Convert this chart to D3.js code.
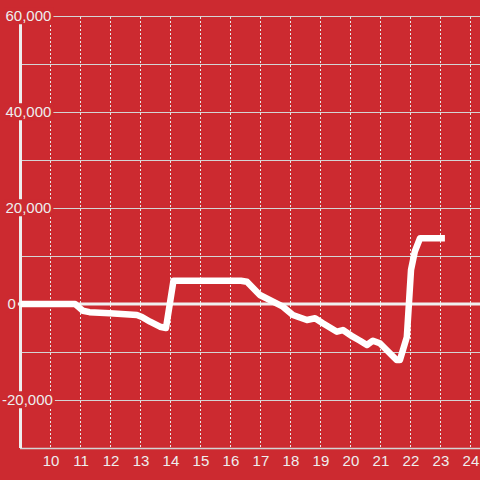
<!DOCTYPE html>
<html><head><meta charset="utf-8">
<script src="https://cdn.jsdelivr.net/npm/d3@7"></script>
<style>html,body{margin:0;padding:0;background:#cc2a30;}svg{display:block;}</style>
</head><body>
<svg id="c" width="480" height="480"></svg>
<script>
const xValues = [9, 10.82, 10.95, 11.08, 11.3, 11.98, 12.88, 13.05, 13.32, 13.65, 13.85, 14.1, 16.35, 16.55, 16.98, 17.42, 17.75, 18.08, 18.55, 18.82, 19.08, 19.55, 19.75, 20.08, 20.32, 20.55, 20.75, 20.98, 21.54, 21.65, 21.88, 22.02, 22.15, 22.32, 23.15];
const yValues = [0, 0, -700, -1400, -1700, -1940, -2300, -2700, -3690, -4730, -5000, 4850, 4850, 4650, 1875, 480, -560, -2290, -3330, -2980, -4020, -5770, -5420, -6810, -7650, -8540, -7650, -8190, -11670, -11670, -6900, 7100, 11000, 13700, 13700];
const xTicks = [10, 11, 12, 13, 14, 15, 16, 17, 18, 19, 20, 21, 22, 23, 24];
const yGrid = [-30000, -20000, -10000, 0, 10000, 20000, 30000, 40000, 50000, 60000];
const yLabels = [-20000, 0, 20000, 40000, 60000];

const bg = "#cc2a30";
const svg = d3.select("#c");
const x = d3.scaleLinear().domain([9, 24.32]).range([20.5, 480]);
const y = d3.scaleLinear().domain([-30000, 60000]).range([448, 16]);

// horizontal grid
svg.append("g").selectAll("line").data(yGrid.filter(v => v !== 0)).join("line")
  .attr("x1", 20).attr("x2", 480)
  .attr("y1", d => Math.round(y(d)) + 0.5).attr("y2", d => Math.round(y(d)) + 0.5)
  .attr("stroke", "#d4d4d4").attr("stroke-width", d => d === -30000 ? 1.5 : 1);

// vertical dotted grid
svg.append("g").selectAll("line").data(xTicks).join("line")
  .attr("x1", d => Math.round(x(d)) + 0.5).attr("x2", d => Math.round(x(d)) + 0.5)
  .attr("y1", 17).attr("y2", 448)
  .attr("stroke", "#e8e8e8").attr("stroke-width", 1).attr("stroke-dasharray", "2,2");

// left axis bar
svg.append("line").attr("x1", 20.5).attr("x2", 20.5).attr("y1", 16).attr("y2", 448)
  .attr("stroke", "#eeeeee").attr("stroke-width", 3);

// zero line
svg.append("line").attr("x1", 17).attr("x2", 480).attr("y1", y(0)).attr("y2", y(0))
  .attr("stroke", "#f0f0f0").attr("stroke-width", 3);

// y labels with background
const fmt = d3.format(",");
const yl = svg.append("g").attr("font-family", "Liberation Sans, Arial, sans-serif").attr("font-size", 15);
yLabels.forEach(v => {
  const g = yl.append("g");
  const t = g.append("text").attr("x", v < 0 ? 2 : (v === 0 ? 7.5 : 5.5)).attr("y", y(v)).attr("dy", "0.35em")
    .attr("fill", "#eeeeee").text(fmt(v).replace("−", "-"));
  const b = t.node().getBBox();
  g.insert("rect", "text").attr("x", b.x - 1).attr("y", b.y).attr("width", b.width + 3).attr("height", b.height)
    .attr("fill", bg);
});

// x labels
svg.append("g").attr("font-family", "Liberation Sans, Arial, sans-serif").attr("font-size", 15)
  .selectAll("text").data(xTicks).join("text")
  .attr("x", d => x(d) + 0.5).attr("y", 466).attr("text-anchor", "middle")
  .attr("fill", "#eeeeee").text(d => d);

// line
const pts = xValues.map((v, i) => [v, yValues[i]]);
const line = d3.line().x(d => x(d[0])).y(d => y(d[1])).curve(d3.curveLinear);
svg.append("path").attr("d", line(pts)).attr("fill", "none")
  .attr("stroke", "#ffffff").attr("stroke-width", 6.5).attr("stroke-linejoin", "round");
</script>
</body></html>
